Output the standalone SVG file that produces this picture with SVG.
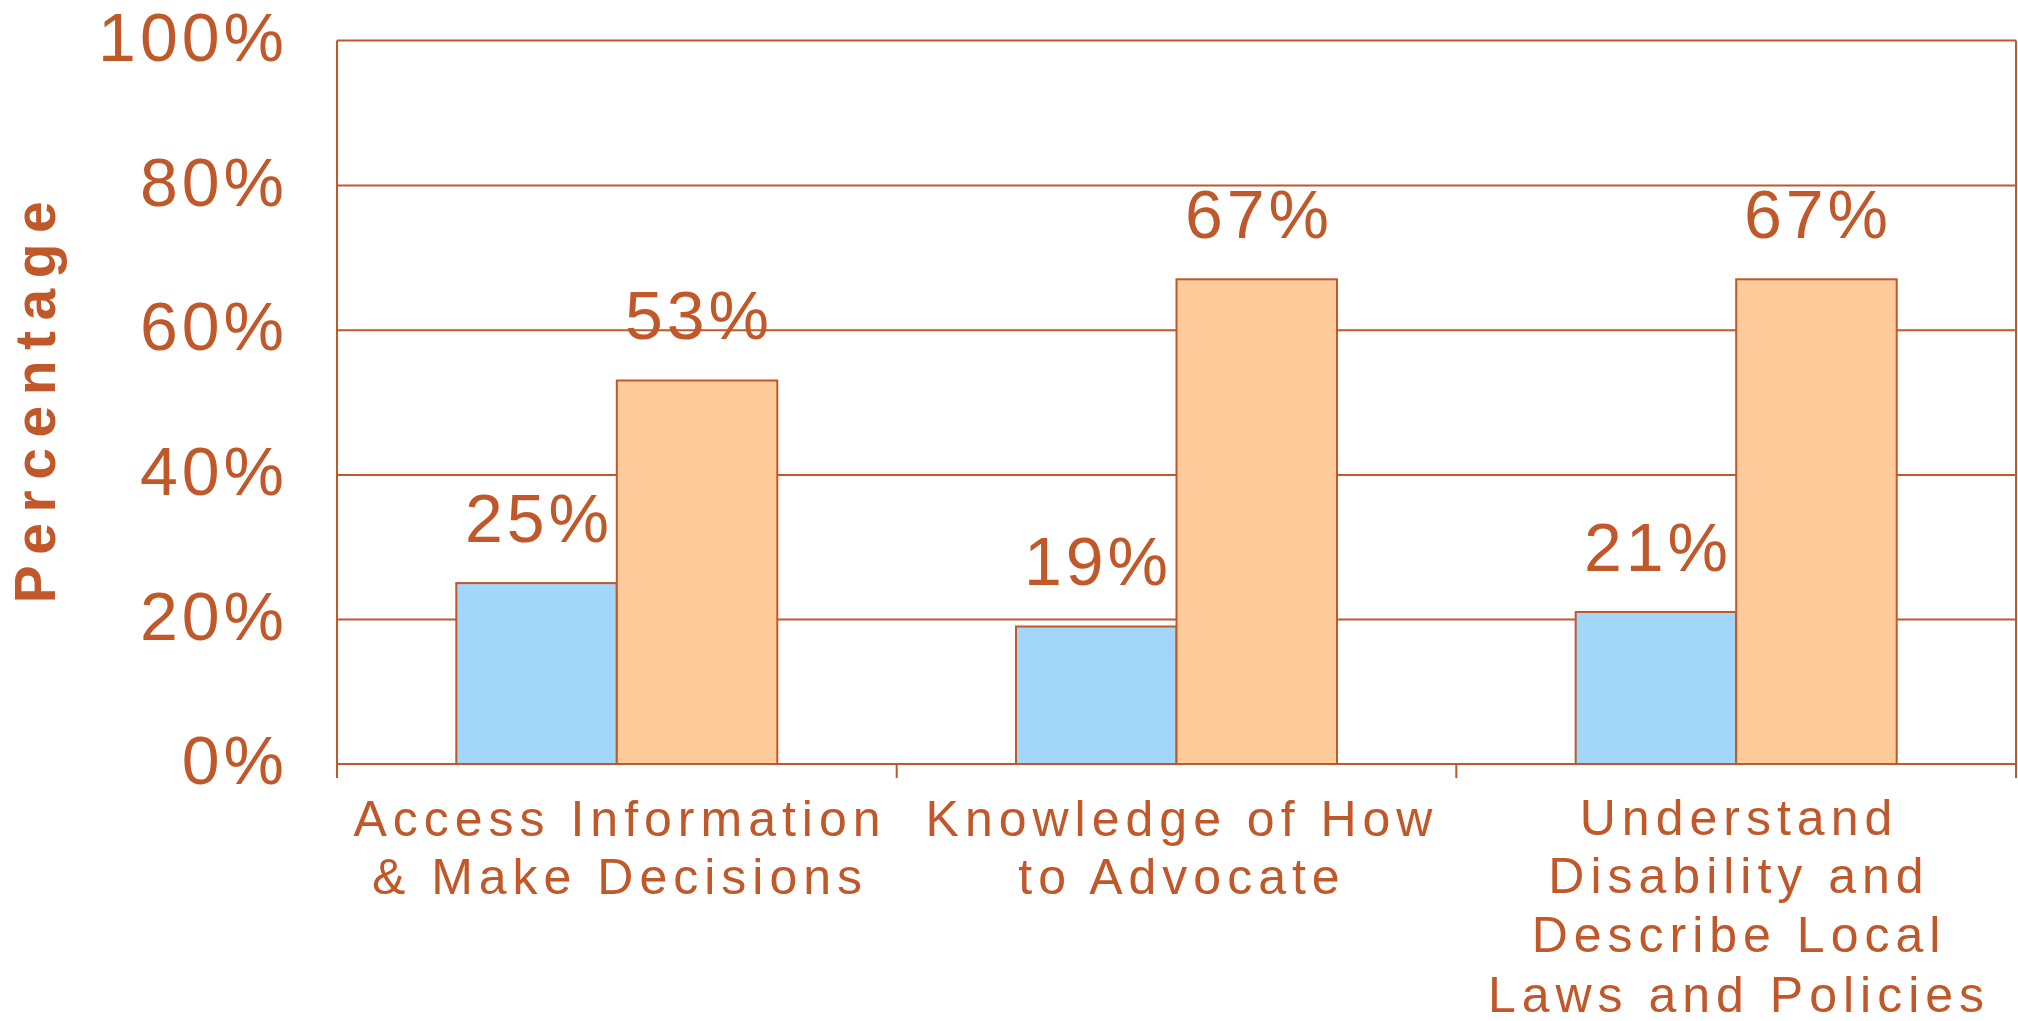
<svg xmlns="http://www.w3.org/2000/svg" width="2018" height="1021" viewBox="0 0 2018 1021">
<style>
.grid{stroke:#C0582A;stroke-width:2;fill:none}
.blue{fill:#A2D7F9;stroke:#C0582A;stroke-width:2}
.orange{fill:#FECB9A;stroke:#C0582A;stroke-width:2}
.ylab{font-family:"Liberation Sans",Arial,sans-serif;font-size:68px;fill:#C0582A;letter-spacing:4px;text-anchor:end}
.val{font-family:"Liberation Sans",Arial,sans-serif;font-size:68px;fill:#C0582A;letter-spacing:4px;text-anchor:middle}
.cat{font-family:"Liberation Sans",Arial,sans-serif;font-size:50px;fill:#C0582A;letter-spacing:6px;text-anchor:middle}
.title{font-family:"Liberation Sans",Arial,sans-serif;font-size:57px;font-weight:bold;fill:#C0582A;letter-spacing:10.5px;text-anchor:middle}
</style>
<rect width="2018" height="1021" fill="#FFFFFF"/>
<g id="gridlines">
<line class="grid" x1="337" y1="40.5" x2="2016" y2="40.5"/>
<line class="grid" x1="337" y1="185.5" x2="2016" y2="185.5"/>
<line class="grid" x1="337" y1="330.2" x2="2016" y2="330.2"/>
<line class="grid" x1="337" y1="474.9" x2="2016" y2="474.9"/>
<line class="grid" x1="337" y1="619.6" x2="2016" y2="619.6"/>
<line class="grid" x1="2016" y1="40.5" x2="2016" y2="778"/>
</g>
<g id="y-axis">
<text class="ylab" x="288" y="61">100%</text>
<text class="ylab" x="288" y="206">80%</text>
<text class="ylab" x="288" y="350">60%</text>
<text class="ylab" x="288" y="495">40%</text>
<text class="ylab" x="288" y="640">20%</text>
<text class="ylab" x="288" y="784">0%</text>
<text class="title" transform="translate(55,402) rotate(-90)" x="5" y="0">Percentage</text>
</g>
<g id="group1">
<rect class="blue" x="456.3" y="583.1" width="160.5" height="180.9"/>
<rect class="orange" x="616.8" y="380.5" width="160.5" height="383.5"/>
<text class="val" x="539" y="542">25%</text>
<text class="val" x="699" y="339">53%</text>
</g>
<g id="group2">
<rect class="blue" x="1016" y="626.5" width="160.5" height="137.5"/>
<rect class="orange" x="1176.5" y="279.3" width="160.5" height="484.7"/>
<text class="val" x="1098" y="585">19%</text>
<text class="val" x="1259" y="238">67%</text>
</g>
<g id="group3">
<rect class="blue" x="1575.7" y="612" width="160.5" height="152"/>
<rect class="orange" x="1736.2" y="279.3" width="160.5" height="484.7"/>
<text class="val" x="1658" y="571">21%</text>
<text class="val" x="1818" y="238">67%</text>
</g>
<g id="axis">
<line class="grid" x1="337" y1="40.5" x2="337" y2="778"/>
<line class="grid" x1="337" y1="764" x2="2016" y2="764"/>
<line class="grid" x1="896.7" y1="764" x2="896.7" y2="778"/>
<line class="grid" x1="1456.3" y1="764" x2="1456.3" y2="778"/>
</g>
<g id="categories">
<text class="cat" x="620" y="836">Access Information</text>
<text class="cat" x="620" y="894">&amp; Make Decisions</text>
<text class="cat" x="1182" y="836">Knowledge of How</text>
<text class="cat" x="1182" y="894">to Advocate</text>
<text class="cat" x="1739" y="835">Understand</text>
<text class="cat" x="1739" y="893">Disability and</text>
<text class="cat" x="1739" y="952">Describe Local</text>
<text class="cat" x="1739" y="1012">Laws and Policies</text>
</g>
</svg>
